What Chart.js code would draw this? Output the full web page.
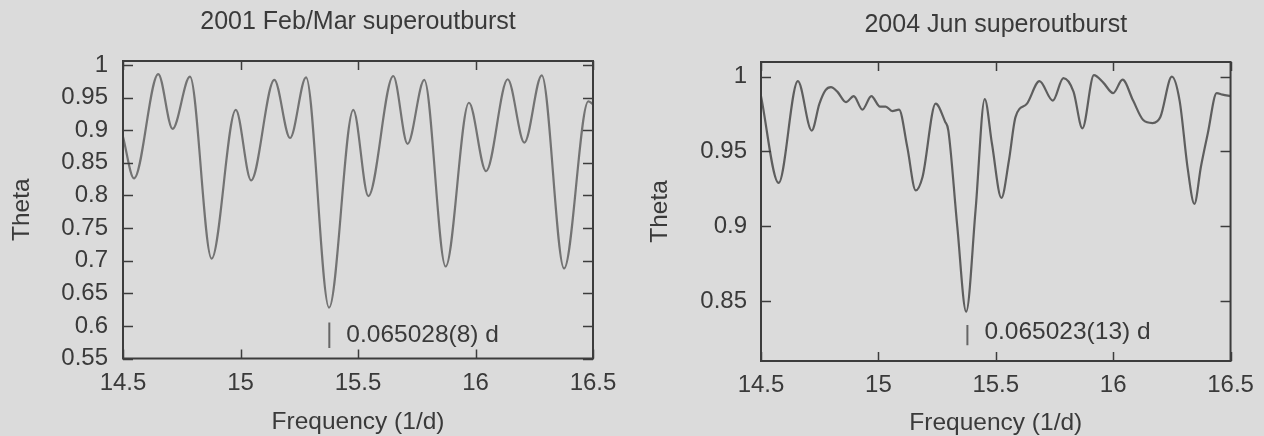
<!DOCTYPE html>
<html><head><meta charset="utf-8">
<script src="https://cdn.jsdelivr.net/npm/chart.js@4.4.1/dist/chart.umd.min.js"></script>
<style>
html,body{margin:0;padding:0;background:#dbdbdb;width:1264px;height:436px;overflow:hidden}
canvas{position:absolute;top:0}
#c1{left:0}
#c2{left:632px}
</style></head><body>
<canvas id="c1" width="632" height="436"></canvas>
<canvas id="c2" width="632" height="436"></canvas>
<script>
// ---- data ----
const freq2001 = [14.5, 14.547, 14.65, 14.711, 14.785, 14.877, 14.98, 15.045, 15.144, 15.211, 15.279, 15.377, 15.48, 15.544, 15.65, 15.711, 15.782, 15.873, 15.972, 16.045, 16.137, 16.208, 16.282, 16.377, 16.48, 16.5];
const theta2001 = [0.89, 0.826, 0.986, 0.902, 0.982, 0.703, 0.931, 0.823, 0.977, 0.888, 0.981, 0.628, 0.931, 0.799, 0.983, 0.879, 0.977, 0.691, 0.942, 0.837, 0.978, 0.881, 0.984, 0.688, 0.944, 0.94];

const freq2004 = [14.5, 14.575, 14.657, 14.716, 14.749, 14.775, 14.798, 14.825, 14.862, 14.895, 14.932, 14.970, 15.007, 15.031, 15.059, 15.088, 15.123, 15.159, 15.188, 15.244, 15.284, 15.298, 15.336, 15.374, 15.414, 15.453, 15.484, 15.524, 15.556, 15.584, 15.633, 15.686, 15.743, 15.788, 15.831, 15.869, 15.918, 15.958, 16.0, 16.04, 16.085, 16.128, 16.168, 16.201, 16.25, 16.283, 16.318, 16.346, 16.374, 16.403, 16.441, 16.466, 16.5];
const theta2004 = [0.987, 0.929, 0.997, 0.964, 0.982, 0.991, 0.993, 0.990, 0.983, 0.987, 0.978, 0.987, 0.980, 0.980, 0.977, 0.978, 0.953, 0.924, 0.933, 0.982, 0.970, 0.964, 0.900, 0.843, 0.911, 0.985, 0.955, 0.919, 0.944, 0.973, 0.982, 0.997, 0.984, 0.999, 0.990, 0.9655, 1.001, 0.996, 0.989, 0.998, 0.984, 0.971, 0.969, 0.973, 1.000, 0.984, 0.938, 0.915, 0.940, 0.962, 0.989, 0.988, 0.987];

const xTickValues = [14.5, 15, 15.5, 16, 16.5];
const yTicks2001 = [0.55, 0.6, 0.65, 0.7, 0.75, 0.8, 0.85, 0.9, 0.95, 1];
const yTicks2004 = [0.85, 0.9, 0.95, 1];

const title2001 = '2001 Feb/Mar superoutburst';
const title2004 = '2004 Jun superoutburst';
const period2001 = 0.065028, periodLabel2001 = '0.065028(8) d';
const period2004 = 0.065023, periodLabel2004 = '0.065023(13) d';
const markRange2001 = [0.605, 0.566], markTextY2001 = 0.585;
const markRange2004 = [0.834, 0.8205], markTextY2004 = 0.8295;

// ---- drawing ----
Chart.defaults.font.family = '"Liberation Sans", Arial, sans-serif';
Chart.defaults.color = '#3a3a3a';

const fmt = v => String(+(+v).toFixed(3));

const framePlugin = {
  id: 'frame',
  afterDatasetsDraw(chart, args, opts) {
    const {ctx, chartArea: a, scales: {x, y}} = chart;
    ctx.save();
    ctx.strokeStyle = '#3c3c3c';
    ctx.lineWidth = 1.5;
    ctx.beginPath();
    x.ticks.forEach(t => {
      const px = Math.round(x.getPixelForValue(t.value)) + 0.5;
      ctx.moveTo(px, a.bottom); ctx.lineTo(px, a.bottom - 9);
      ctx.moveTo(px, a.top); ctx.lineTo(px, a.top + 9);
    });
    y.ticks.forEach(t => {
      const py = Math.round(y.getPixelForValue(t.value)) + 0.5;
      ctx.moveTo(a.left, py); ctx.lineTo(a.left + 10, py);
      ctx.moveTo(a.right, py); ctx.lineTo(a.right - 10, py);
    });
    ctx.stroke();
    ctx.lineWidth = 2;
    ctx.strokeRect(a.left, a.top, a.right - a.left, a.bottom - a.top);
    ctx.fillStyle = '#3a3a3a';
    ctx.font = '24.5px "Liberation Sans", Arial, sans-serif';
    ctx.textBaseline = 'middle';
    ctx.textAlign = 'left';
    ctx.fillText(opts.text, x.getPixelForValue(opts.freq) + 17, y.getPixelForValue(opts.textY));
    ctx.restore();
  }
};

function makeChart(id, p) {
  const pts = p.freq.map((f, i) => ({x: f, y: p.theta[i]}));
  const mf = 1 / p.period;
  return new Chart(document.getElementById(id), {
    type: 'line',
    data: {
      datasets: [
        {data: pts, borderColor: p.lineColor, borderWidth: 2.2, pointRadius: 0, cubicInterpolationMode: 'monotone', fill: false},
        {data: [{x: mf, y: p.markRange[0]}, {x: mf, y: p.markRange[1]}], borderColor: '#666', borderWidth: 2, pointRadius: 0, tension: 0, fill: false}
      ]
    },
    options: {
      responsive: false,
      animation: false,
      devicePixelRatio: 1,
      layout: {padding: {left: 0, right: p.padRight, top: 0, bottom: 0}},
      plugins: {
        legend: {display: false},
        tooltip: {enabled: false},
        title: {display: true, text: p.title, fullSize: false, color: '#3a3a3a',
          font: {size: 25, weight: 'normal', lineHeight: 1.2},
          padding: {top: p.titleTop, bottom: p.titleBottom}},
        frame: {text: p.markText, freq: mf, textY: p.markTextY}
      },
      scales: {
        x: {
          type: 'linear', min: 14.5, max: 16.5,
          afterBuildTicks: s => { s.ticks = xTickValues.map(v => ({value: v})); },
          afterFit: s => { s.height = p.xHeight; },
          grid: {display: false, drawTicks: false},
          border: {display: false},
          ticks: {callback: fmt, font: {size: 24}, padding: p.xTickPad, color: '#3a3a3a', maxRotation: 0, autoSkip: false},
          title: {display: true, text: 'Frequency (1/d)', font: {size: 24.5, lineHeight: 1.0}, color: '#3a3a3a', padding: {top: 0, bottom: p.xTitlePad}}
        },
        y: {
          type: 'linear', min: p.yMin, max: p.yMax,
          afterBuildTicks: s => { s.ticks = p.yTicks.map(v => ({value: v})); },
          afterFit: s => { s.width = p.yWidth; },
          grid: {display: false, drawTicks: false},
          border: {display: false},
          ticks: {callback: fmt, font: {size: 24}, padding: p.yTickPad, color: '#3a3a3a', autoSkip: false},
          title: {display: true, text: 'Theta', font: {size: 24.5, lineHeight: 1.0}, color: '#3a3a3a', padding: {top: p.yTitlePad, bottom: 0}}
        }
      }
    },
    plugins: [framePlugin]
  });
}

makeChart('c1', {
  freq: freq2001, theta: theta2001, title: title2001, lineColor: '#737373',
  yMin: 0.55, yMax: 1.006, yTicks: yTicks2001,
  period: period2001, markText: periodLabel2001, markRange: markRange2001, markTextY: markTextY2001,
  padRight: 39, yWidth: 123, xHeight: 77.5, titleTop: 7.5, titleBottom: 23.5,
  xTickPad: 10.6, xTitlePad: 1.75, yTickPad: 15, yTitlePad: 10.25
});
makeChart('c2', {
  freq: freq2004, theta: theta2004, title: title2004, lineColor: '#5e5e5e',
  yMin: 0.81, yMax: 1.0098, yTicks: yTicks2004,
  period: period2004, markText: periodLabel2004, markRange: markRange2004, markTextY: markTextY2004,
  padRight: 31, yWidth: 129, xHeight: 75, titleTop: 10, titleBottom: 22,
  xTickPad: 10.1, xTitlePad: 0.25, yTickPad: 14, yTitlePad: 15.75
});
</script>
</body></html>
